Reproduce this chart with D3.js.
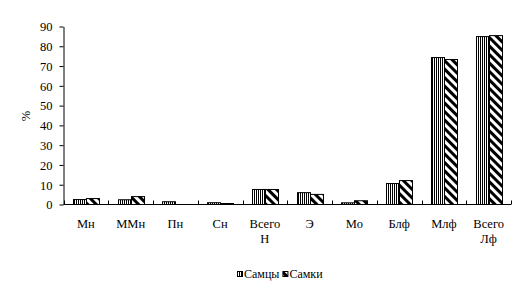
<!DOCTYPE html>
<html><head><meta charset="utf-8">
<script src="https://cdn.jsdelivr.net/npm/d3@7"></script>
<style>body{margin:0;background:#fff}svg{display:block}</style>
</head><body><svg id="c" width="526" height="293"></svg>
<script>
const categories = [["Мн"],["ММн"],["Пн"],["Сн"],["Всего","Н"],["Э"],["Мо"],["Блф"],["Млф"],["Всего","Лф"]];
const males   = [2.5, 2.4, 1.4, 0.9, 7.6, 6.0, 0.85, 10.6, 74.3, 84.9];
const females = [3.0, 4.0, 0.0, 0.5, 7.6, 5.1, 1.9, 12.1, 73.3, 85.4];
const seriesNames = ["Самцы","Самки"];
const yTicks = [0,10,20,30,40,50,60,70,80,90];

// pick first installed serif font
const cands = ["Liberation Serif","Times New Roman","Tinos","DejaVu Serif","Noto Serif","FreeSerif"];
const ctx = document.createElement("canvas").getContext("2d");
function w(f){ ctx.font = "20px " + f; return ctx.measureText("Самцы Wmil 0123").width; }
let FONT = "serif";
for (const c of cands) {
  if (w(`'${c}', monospace`) !== w("monospace") || w(`'${c}', sans-serif`) !== w("sans-serif")) { FONT = `'${c}', serif`; break; }
}

const svg = d3.select("#c").attr("font-family", FONT);
const defs = svg.append("defs");
const pv = defs.append("pattern").attr("id","pv").attr("patternUnits","userSpaceOnUse").attr("width",2).attr("height",4);
pv.append("rect").attr("width",2).attr("height",4).attr("fill","#fff");
pv.append("rect").attr("x",0).attr("width",1).attr("height",4).attr("fill","#000");
const pd = defs.append("pattern").attr("id","pd").attr("patternUnits","userSpaceOnUse").attr("width",6).attr("height",6).attr("patternTransform","rotate(-45)");
pd.append("rect").attr("width",6).attr("height",6).attr("fill","#fff");
pd.append("rect").attr("x",0).attr("width",3).attr("height",6).attr("fill","#000");
const fills = ["url(#pv)","url(#pd)"];

const x0 = 63.5, x1 = 511, yB = 204.5, yT = 26.5;
const x = d3.scaleBand().domain(d3.range(categories.length)).range([x0, x1]);
const y = d3.scaleLinear().domain([0,90]).range([yB, yT]);
const bw = 13;

// bars
const series = [males, females];
series.forEach((vals, s) => {
  svg.append("g").selectAll("rect").data(vals).join("rect")
    .attr("x", (d,i) => Math.round(x(i) + x.bandwidth()/2 - bw + s*bw) + 0.5)
    .attr("y", d => y(d))
    .attr("width", bw)
    .attr("height", d => Math.max(0, yB - y(d)))
    .attr("fill", fills[s]).attr("stroke","#000").attr("stroke-width",1)
    .style("display", d => d > 0 ? null : "none");
});

// y axis
const ya = svg.append("g").attr("transform",`translate(${x0},0)`)
  .call(d3.axisLeft(y).tickValues(yTicks).tickSize(4).tickSizeOuter(0));
ya.attr("font-family", FONT);
ya.select(".domain").attr("stroke","#000");
ya.selectAll("text").attr("font-size",12.5).attr("fill","#000").attr("x",-11).attr("dy","0.35em");
// x axis
const xa = svg.append("g").attr("transform",`translate(0,${yB})`);
xa.append("line").attr("x1",x0).attr("x2",x1).attr("stroke","#000");
xa.selectAll("line.t").data(d3.range(categories.length+1)).join("line").attr("class","t")
  .attr("x1", i => Math.round(x0 + i*x.bandwidth())+0.5).attr("x2", i => Math.round(x0 + i*x.bandwidth())+0.5)
  .attr("y1",0).attr("y2",-4).attr("stroke","#000");

// category labels
const lab = svg.append("g").selectAll("text").data(categories).join("text")
  .attr("font-size",12.5).attr("text-anchor","middle").attr("fill","#000")
  .attr("transform",(d,i)=>`translate(${x(i)+x.bandwidth()/2},227.5)`);
lab.selectAll("tspan").data(d=>d).join("tspan").attr("x",0).attr("dy",(d,j)=>j?15.5:0).text(d=>d);

// y title
svg.append("text").attr("transform","translate(30,116) rotate(-90)").attr("text-anchor","middle")
  .attr("font-size",12.5).text("%");

// legend
const leg = svg.append("g").attr("transform","translate(237,271)");
let lx = 0;
seriesNames.forEach((n,s)=>{
  leg.append("rect").attr("x",lx+0.5).attr("y",0.5).attr("width",5).attr("height",5).attr("fill",fills[s]).attr("stroke","#000");
  const t = leg.append("text").attr("x",lx+7).attr("y",7).attr("font-size",12).text(n);
  lx += 7 + t.node().getComputedTextLength() + 3;
});
</script></body></html>
